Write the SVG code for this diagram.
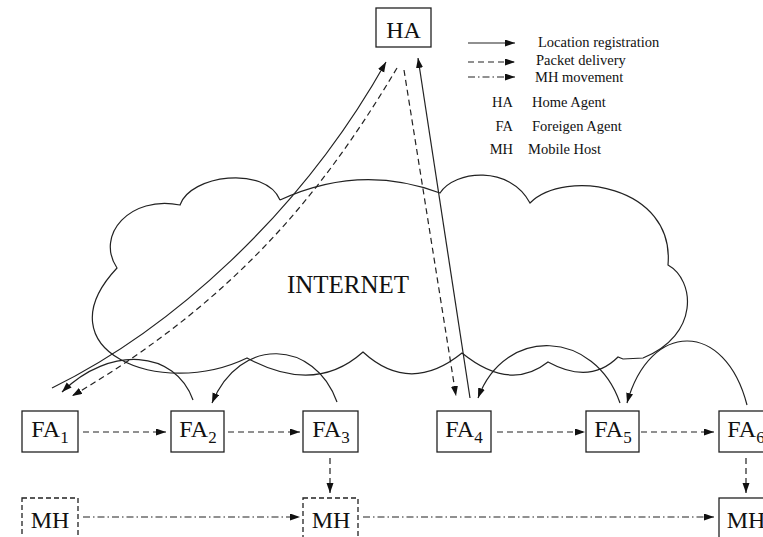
<svg xmlns="http://www.w3.org/2000/svg" width="763" height="537" viewBox="0 0 763 537">
<style>
  text { font-family: "Liberation Serif", "Times New Roman", serif; fill: #111; }
  .box { fill: #fff; stroke: #222; stroke-width: 1.3; }
  .dbox { fill: #fff; stroke: #222; stroke-width: 1.3; stroke-dasharray: 5 3; }
  .lbl { font-size: 24px; text-anchor: middle; }
  .leg { font-size: 14.5px; }
  .solid { fill: none; stroke: #222; stroke-width: 1.2; }
  .dash { fill: none; stroke: #222; stroke-width: 1.2; stroke-dasharray: 6 4; }
  .dashdot { fill: none; stroke: #222; stroke-width: 1.2; stroke-dasharray: 7 3 1.5 3; }
  .cloud { fill: none; stroke: #222; stroke-width: 1.2; }
</style>
<defs>
  <marker id="arr" markerUnits="userSpaceOnUse" markerWidth="11" markerHeight="8" refX="10" refY="3.5" orient="auto">
    <path d="M0,0 L10,3.5 L0,7 z" fill="#111"/>
  </marker>
</defs>

<!-- Cloud -->
<g id="internet">
  <path class="cloud" d="M 280 200 Q 360 163 440 193 C 455 170 510 165 530 203 C 565 168 675 185 668 265 C 695 280 700 335 643 358 L 623 359 L 618 357 Q 590 385 548 362 Q 510 392 462 353 Q 410 395 363 352 Q 315 395 247 358 C 160 400 40 350 117 268 C 95 235 130 195 180 205 C 190 175 265 165 280 200"/>
  <text x="348" y="293" font-size="25" text-anchor="middle">INTERNET</text>
</g>

<!-- Legend -->
<g id="legend">
  <line class="solid" x1="468" y1="43" x2="515" y2="43" marker-end="url(#arr)"/>
  <text class="leg" x="538" y="47">Location registration</text>
  <line class="dash" x1="468" y1="62" x2="515" y2="62" marker-end="url(#arr)"/>
  <text class="leg" x="536" y="65">Packet delivery</text>
  <line class="dashdot" x1="468" y1="77" x2="515" y2="77" marker-end="url(#arr)"/>
  <text class="leg" x="535" y="82">MH movement</text>
  <text class="leg" x="513" y="107" text-anchor="end">HA</text>
  <text class="leg" x="532" y="107">Home Agent</text>
  <text class="leg" x="513" y="131" text-anchor="end">FA</text>
  <text class="leg" x="532" y="131">Foreigen Agent</text>
  <text class="leg" x="513" y="154" text-anchor="end">MH</text>
  <text class="leg" x="528" y="154">Mobile Host</text>
</g>

<!-- Connectors -->
<g id="connectors">
  <!-- location registration FA1 -> HA -->
  <path class="solid" d="M 52 388 C 170 330 300 215 386 62" marker-end="url(#arr)"/>
  <!-- packet delivery HA -> FA1 -->
  <path class="dash" d="M 397 68 C 330 180 245 295 72 396" marker-end="url(#arr)"/>
  <!-- location registration FA4 -> HA -->
  <path class="solid" d="M 470 398 L 418 58" marker-end="url(#arr)"/>
  <!-- packet delivery HA -> FA4 -->
  <path class="dash" d="M 404 70 L 456 396" marker-end="url(#arr)"/>
  <!-- FA arcs (registration with previous FA) -->
  <path class="solid" d="M 193 400 C 175 350 110 345 62 392" marker-end="url(#arr)"/>
  <path class="solid" d="M 337 402 C 315 340 240 335 212 403" marker-end="url(#arr)"/>
  <path class="solid" d="M 620 403 C 595 330 505 325 478 398" marker-end="url(#arr)"/>
  <path class="solid" d="M 747 405 C 725 320 650 320 627 403" marker-end="url(#arr)"/>
  <!-- packet forwarding between FAs -->
  <line class="dash" x1="83" y1="432" x2="166" y2="432" marker-end="url(#arr)"/>
  <line class="dash" x1="228" y1="432" x2="300" y2="432" marker-end="url(#arr)"/>
  <line class="dash" x1="497" y1="432" x2="585" y2="432" marker-end="url(#arr)"/>
  <line class="dash" x1="641" y1="432" x2="714" y2="432" marker-end="url(#arr)"/>
  <line class="dash" x1="330" y1="458" x2="330" y2="493" marker-end="url(#arr)"/>
  <line class="dash" x1="746" y1="458" x2="746" y2="493" marker-end="url(#arr)"/>
  <!-- MH movement -->
  <line class="dashdot" x1="83" y1="517" x2="300" y2="517" marker-end="url(#arr)"/>
  <line class="dashdot" x1="363" y1="517" x2="714" y2="517" marker-end="url(#arr)"/>
</g>

<!-- Nodes -->
<g id="HA">
  <rect class="box" x="376" y="8" width="55" height="39"/>
  <text class="lbl" x="403.5" y="38">HA</text>
</g>
<g id="FA1">
  <rect class="box" x="22" y="411" width="56" height="41"/>
  <text class="lbl" x="50" y="437">FA<tspan font-size="17" dy="6">1</tspan></text>
</g>
<g id="FA2">
  <rect class="box" x="171" y="411" width="53" height="41"/>
  <text class="lbl" x="198" y="437">FA<tspan font-size="17" dy="6">2</tspan></text>
</g>
<g id="FA3">
  <rect class="box" x="303" y="411" width="55" height="41"/>
  <text class="lbl" x="331" y="437">FA<tspan font-size="17" dy="6">3</tspan></text>
</g>
<g id="FA4">
  <rect class="box" x="437" y="411" width="54" height="41"/>
  <text class="lbl" x="464" y="437">FA<tspan font-size="17" dy="6">4</tspan></text>
</g>
<g id="FA5">
  <rect class="box" x="586" y="411" width="53" height="41"/>
  <text class="lbl" x="613" y="437">FA<tspan font-size="17" dy="6">5</tspan></text>
</g>
<g id="FA6">
  <rect class="box" x="719" y="411" width="55" height="41"/>
  <text class="lbl" x="746" y="437">FA<tspan font-size="17" dy="6">6</tspan></text>
</g>
<g id="MH1">
  <rect class="dbox" x="22" y="498" width="56" height="42"/>
  <text class="lbl" x="50" y="528">MH</text>
</g>
<g id="MH3">
  <rect class="dbox" x="303" y="498" width="55" height="42"/>
  <text class="lbl" x="331" y="528">MH</text>
</g>
<g id="MH6">
  <rect class="box" x="719" y="498" width="55" height="42"/>
  <text class="lbl" x="746" y="528">MH</text>
</g>
</svg>
